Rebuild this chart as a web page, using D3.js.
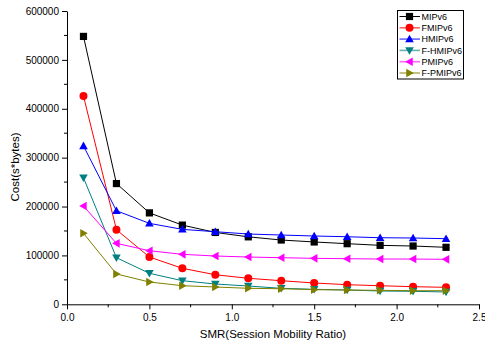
<!DOCTYPE html>
<html><head><meta charset="utf-8">
<script src="https://cdn.jsdelivr.net/npm/d3@7"></script>
<style>body{margin:0;background:#fff}svg{display:block}text{font-family:"Liberation Sans",Arial,sans-serif}</style>
</head><body><svg id="c" width="485" height="345"></svg>
<script>
const smr = [0.1,0.3,0.5,0.7,0.9,1.1,1.3,1.5,1.7,1.9,2.1,2.3];
const MIPv6   = [548000,247000,187000,162000,147000,138000,131500,127500,124000,120600,119200,116600];
const FMIPv6  = [426000,152600,96700,73600,60500,53200,48300,43600,40100,38000,36000,34700];
const HMIPv6  = [324000,191400,165600,153300,148500,143800,141700,139700,138200,136200,135600,134200];
const FHMIPv6 = [258900,95300,63400,48300,41500,37400,32700,30700,29200,27200,26600,25200];
const PMIPv6  = [201000,124700,109600,102200,98800,96700,95300,94000,93300,92600,92600,92000];
const FPMIPv6 = [145200,62000,45600,38000,35400,32700,31900,29900,29200,28600,27800,27800];
const seriesNames = ["MIPv6","FMIPv6","HMIPv6","F-HMIPv6","PMIPv6","F-PMIPv6"];
const seriesValues = [MIPv6,FMIPv6,HMIPv6,FHMIPv6,PMIPv6,FPMIPv6];
const colors = ["#000000","#ff0000","#0000ff","#008080","#ff00ff","#808000"];
const markers = ["square","circle","up","down","left","right"];
const xTicks = [0,0.5,1.0,1.5,2.0,2.5];
const yTicks = [0,100000,200000,300000,400000,500000,600000];

const svg = d3.select("#c");
const L=67, R=479, T=11, B=304.3;
const x = d3.scaleLinear().domain([0,2.5]).range([L,R]);
const y = d3.scaleLinear().domain([0,600000]).range([B,T]);

function marker(g, type, cx, cy, color){
  const s=3.6;
  let el;
  if(type==="square") el=g.append("rect").attr("x",cx-s).attr("y",cy-s).attr("width",2*s).attr("height",2*s);
  else if(type==="circle") el=g.append("circle").attr("cx",cx).attr("cy",cy).attr("r",s+0.4);
  else {
    const t=4.3;
    let pts;
    if(type==="up") pts=[[cx,cy-t],[cx-t,cy+t*0.75],[cx+t,cy+t*0.75]];
    if(type==="down") pts=[[cx,cy+t],[cx-t,cy-t*0.75],[cx+t,cy-t*0.75]];
    if(type==="left") pts=[[cx-t,cy],[cx+t*0.75,cy-t],[cx+t*0.75,cy+t]];
    if(type==="right") pts=[[cx+t,cy],[cx-t*0.75,cy-t],[cx-t*0.75,cy+t]];
    el=g.append("polygon").attr("points",pts.map(p=>p.join(",")).join(" "));
  }
  el.attr("fill",color);
}

// axes
const xAxis = d3.axisBottom(x).tickValues(xTicks).tickFormat(d3.format(".1f")).tickSize(5).tickSizeOuter(0);
const gx = svg.append("g").attr("transform",`translate(0,${B})`).call(xAxis);
gx.selectAll("text").attr("font-size",10).attr("fill","#000").attr("dy","0.9em");
gx.select(".domain").attr("stroke","#000");
gx.selectAll(".tick line").attr("stroke","#000");
const xMinor = d3.range(0.25,2.5,0.5);
svg.append("g").selectAll("line").data(xMinor).join("line")
  .attr("x1",d=>x(d)).attr("x2",d=>x(d)).attr("y1",B).attr("y2",B+3).attr("stroke","#000");

const yAxis = d3.axisLeft(y).tickValues(yTicks).tickFormat(d3.format("d")).tickSize(5).tickSizeOuter(0);
const gy = svg.append("g").attr("transform",`translate(${L},0)`).call(yAxis);
gy.selectAll("text").attr("font-size",10).attr("fill","#000");
gy.select(".domain").attr("stroke","#000");
gy.selectAll(".tick line").attr("stroke","#000");
const yMinor = d3.range(50000,600000,100000);
svg.append("g").selectAll("line").data(yMinor).join("line")
  .attr("x1",L-3).attr("x2",L).attr("y1",d=>y(d)).attr("y2",d=>y(d)).attr("stroke","#000");

// series
const line = d3.line().x((d,i)=>x(smr[i])).y(d=>y(d));
seriesValues.forEach((vals,k)=>{
  const g = svg.append("g");
  g.append("path").datum(vals).attr("d",line).attr("fill","none").attr("stroke",colors[k]).attr("stroke-width",1);
  vals.forEach((v,i)=>marker(g,markers[k],x(smr[i]),y(v),colors[k]));
});

// axis titles
svg.append("text").attr("x",(L+R)/2).attr("y",337.5).attr("text-anchor","middle").attr("font-size",11.5).text("SMR(Session Mobility Ratio)");
svg.append("text").attr("transform",`translate(19,167) rotate(-90)`).attr("text-anchor","middle").attr("font-size",11.5).text("Cost(s*bytes)");

// legend
const lg = svg.append("g");
lg.append("rect").attr("x",397.5).attr("y",10.5).attr("width",66).attr("height",68.5).attr("fill","#fff").attr("stroke","#000").attr("stroke-width",1);
seriesNames.forEach((n,k)=>{
  const ry = 16.5 + k*11.3;
  lg.append("line").attr("x1",399.5).attr("x2",420).attr("y1",ry).attr("y2",ry).attr("stroke",colors[k]).attr("stroke-width",k===0?1:1.6).attr("stroke-opacity",k===0?1:0.6);
  marker(lg,markers[k],409.5,ry,colors[k]);
  lg.append("text").attr("x",421.5).attr("y",ry+3.3).attr("font-size",9).text(n);
});
</script></body></html>
